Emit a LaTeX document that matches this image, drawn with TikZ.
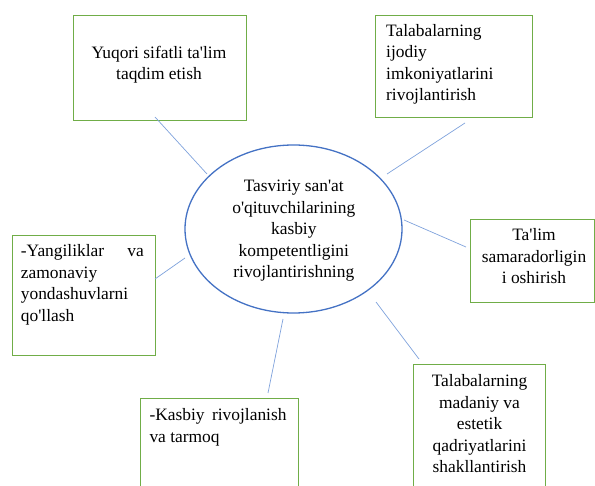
\documentclass[tikz,border=0pt]{standalone}
\usepackage{fontspec}
\setmainfont{LiberationSerif}[Extension=.ttf, UprightFont=*-Regular, BoldFont=*-Bold, ItalicFont=*-Italic, BoldItalicFont=*-BoldItalic, Ligatures=TeXOff]
\usetikzlibrary{shapes.geometric}
\definecolor{boxgreen}{HTML}{70AD47}
\definecolor{ellblue}{HTML}{4472C4}
\definecolor{linkblue}{HTML}{7FA2DC}
\begin{document}
\begin{tikzpicture}[x=1pt,y=-1pt,
  box/.style={draw=boxgreen, line width=1.2pt, inner sep=0pt, anchor=north west},
  txt/.style={inner sep=0pt, font=\fontsize{17.4}{21.5}\selectfont},
  link/.style={draw=linkblue, line width=0.7pt}]
\useasboundingbox (0,0) rectangle (595,486);
% boxes
\node[box, minimum width=172.5pt, minimum height=105pt] (b1) at (73,15) {};
\node[box, minimum width=157pt, minimum height=102pt] (b2) at (375,15) {};
\node[box, minimum width=124pt, minimum height=83pt] (b3) at (470,219) {};
\node[box, minimum width=143pt, minimum height=120pt] (b4) at (12,235) {};
\node[box, minimum width=158pt, minimum height=95pt] (b5) at (140,398) {};
\node[box, minimum width=132pt, minimum height=130pt] (b6) at (413,364) {};
% ellipse
\node[draw=ellblue, line width=1.3pt, ellipse, inner sep=0pt,
      minimum width=217pt, minimum height=168pt] (ell) at (293.5,229) {};
% texts
\node[txt, anchor=base] (t0) at (293.8,192) {\parbox[t]{200pt}{\centering Tasviriy san'at\\o'qituvchilarining\\kasbiy\\kompetentligini\\rivojlantirishning}};
\node[txt, anchor=base] (t1) at (159,58.3) {\parbox[t]{160pt}{\centering Yuqori sifatli ta'lim\\taqdim etish}};
\node[txt, anchor=base west] (t2) at (386,36.5) {\parbox[t]{140pt}{\raggedright Talabalarning\\ijodiy\\imkoniyatlarini\\rivojlantirish}};
\node[txt, anchor=base] (t3) at (534,241) {\parbox[t]{120pt}{\centering Ta'lim\\samaradorligin\\i oshirish}};
\node[txt, anchor=base west] (t4) at (20.7,257) {\parbox[t]{130pt}{\raggedright \makebox[123pt][s]{-Yangiliklar va}\\zamonaviy\\yondashuvlarni\\qo'llash}};
\node[txt, anchor=base west] (t5) at (149.3,420.7) {\parbox[t]{145pt}{\raggedright \makebox[137pt][s]{-Kasbiy rivojlanish}\\va tarmoq}};
\node[txt, anchor=base] (t6) at (479.5,387) {\parbox[t]{128pt}{\centering Talabalarning\\madaniy va\\estetik\\qadriyatlarini\\shakllantirish}};
% connector ends
\coordinate (c1a) at (155,117); \coordinate (c1b) at (207,174);
\coordinate (c2a) at (465,123); \coordinate (c2b) at (387,174);
\coordinate (c3a) at (466,247); \coordinate (c3b) at (404,220);
\coordinate (c4a) at (155,279); \coordinate (c4b) at (185,258);
\coordinate (c5a) at (268,393); \coordinate (c5b) at (283,319);
\coordinate (c6a) at (419,359); \coordinate (c6b) at (376,302);
\draw[link] (c1a) -- (c1b);
\draw[link] (c2a) -- (c2b);
\draw[link] (c3a) -- (c3b);
\draw[link] (c4a) -- (c4b);
\draw[link] (c5a) -- (c5b);
\draw[link] (c6a) -- (c6b);
\end{tikzpicture}
\end{document}
